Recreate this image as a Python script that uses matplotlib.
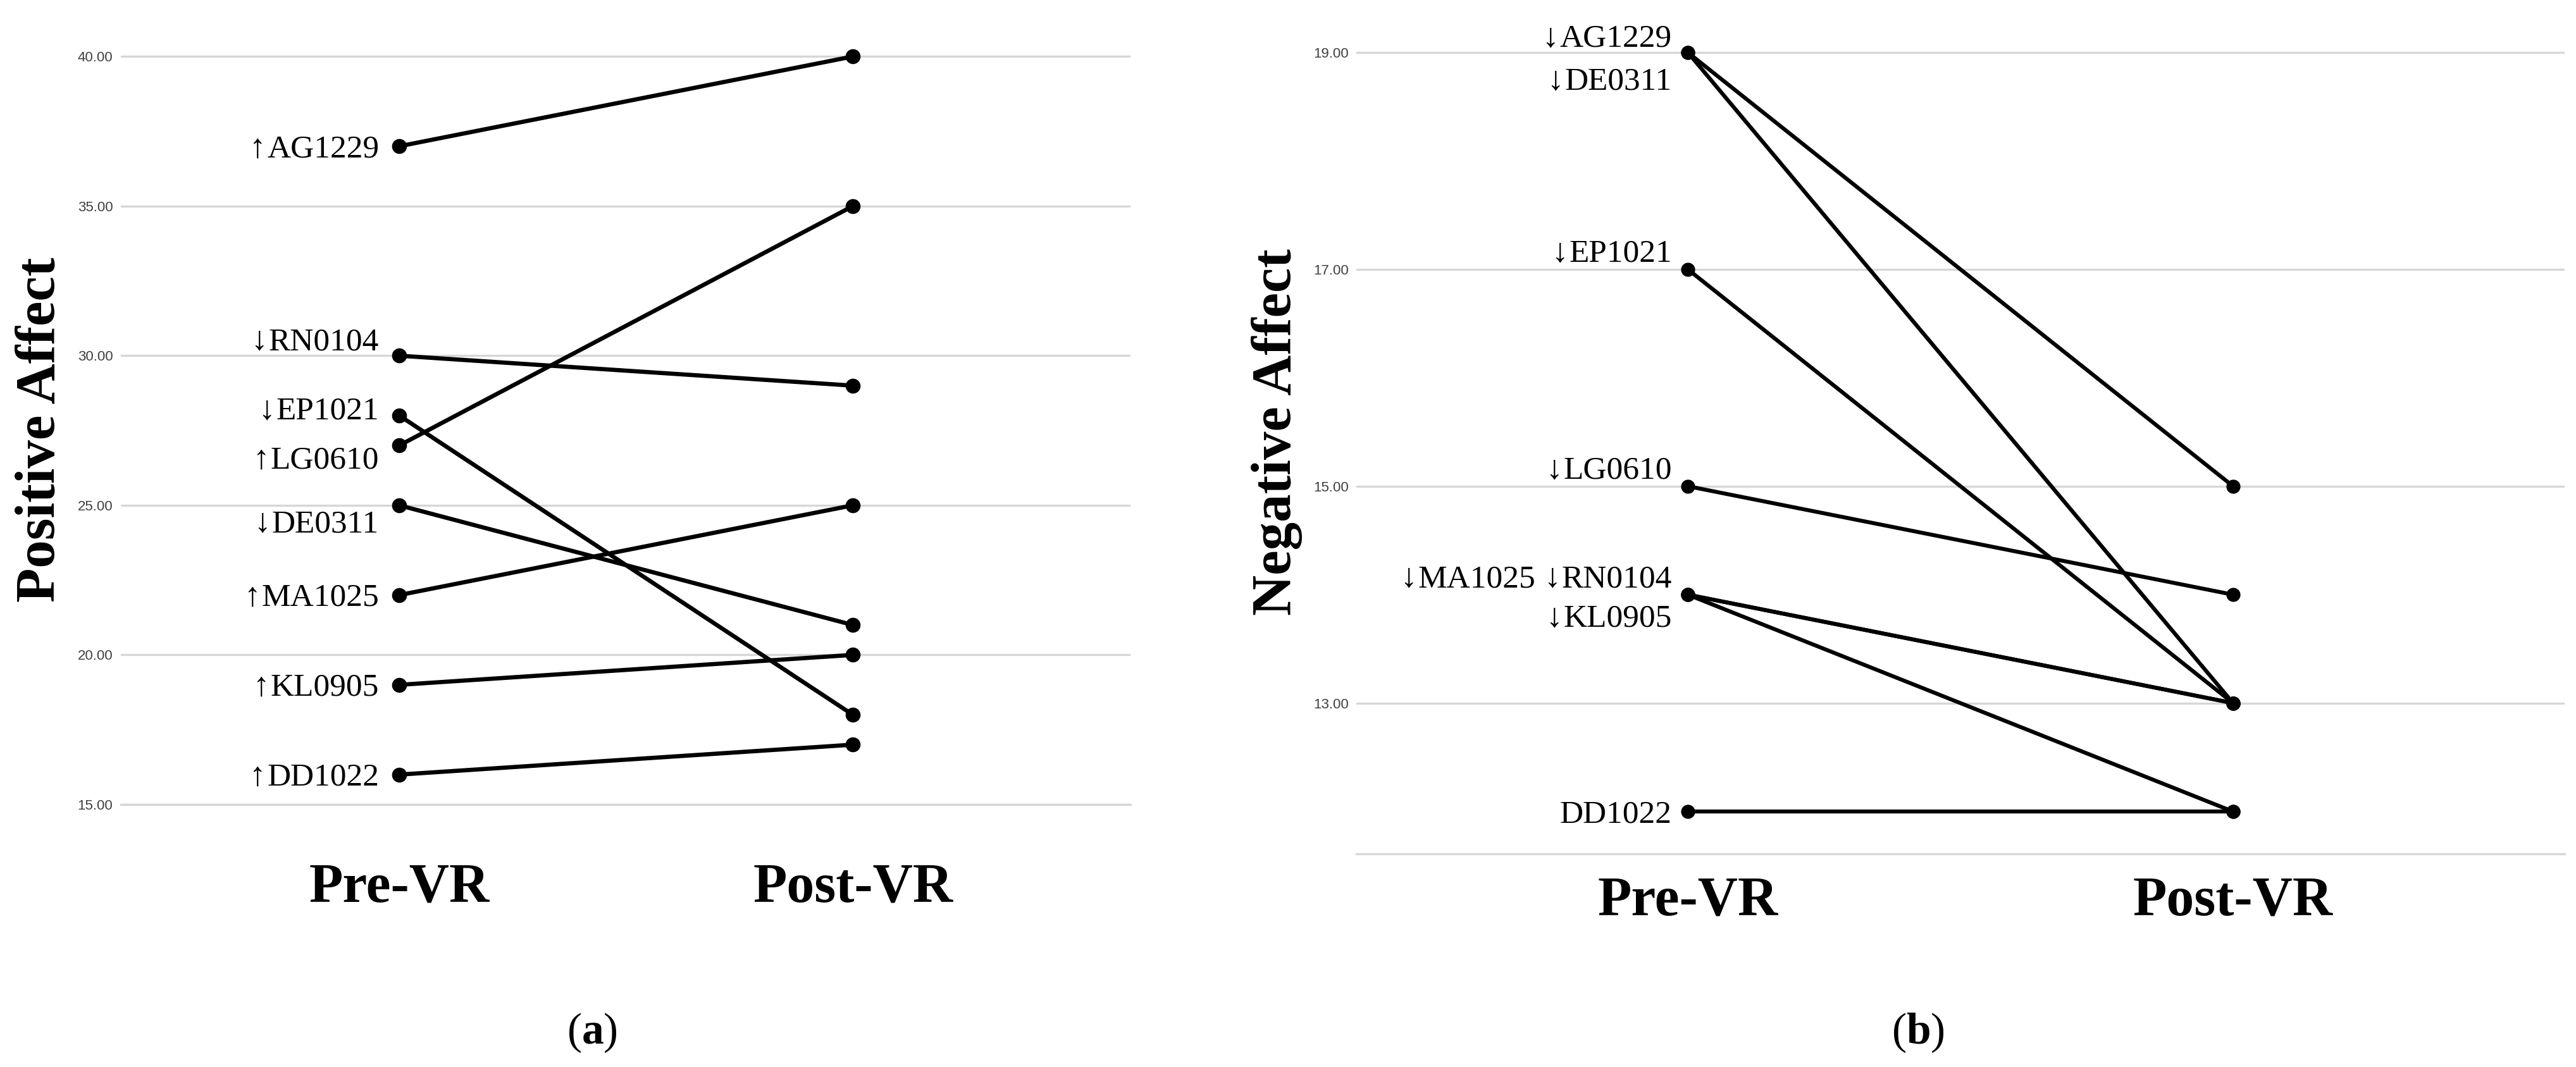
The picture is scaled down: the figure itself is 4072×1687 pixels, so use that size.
import matplotlib
matplotlib.use('Agg')
from matplotlib import pyplot as plt
from matplotlib.ticker import FormatStrFormatter

# values
names = ['AG1229', 'RN0104', 'EP1021', 'LG0610', 'DE0311', 'MA1025', 'KL0905', 'DD1022']
pos_pre = [37, 30, 28, 27, 25, 22, 19, 16]
pos_post = [40, 29, 18, 35, 21, 25, 20, 17]
neg_pre = [19, 14, 17, 15, 19, 14, 14, 12]
neg_post = [15, 13, 13, 14, 13, 13, 12, 12]

time_labels = ['Pre-VR', 'Post-VR']
pos_ticks = [15, 20, 25, 30, 35, 40]
neg_ticks = [13, 15, 17, 19]

plt.rcParams['mathtext.fontset'] = 'custom'
plt.rcParams['mathtext.rm'] = 'Liberation Serif'
plt.rcParams['mathtext.bf'] = 'Liberation Serif:bold'

serif = ['Liberation Serif', 'DejaVu Serif']
tick_font = ['Liberation Sans Narrow', 'Liberation Sans', 'DejaVu Sans']
grid_col = '#d6d6d6'

W, H = 4073, 1687
fig = plt.figure(figsize=(W / 100, H / 100), dpi=100)


def arrow(pre, post):
    if post > pre:
        return '\u2191'
    if post < pre:
        return '\u2193'
    return ''


def setup(ax, ticks, pad):
    for s in ['left', 'right', 'top']:
        ax.spines[s].set_visible(False)
    ax.spines['bottom'].set_color(grid_col)
    ax.spines['bottom'].set_linewidth(2.4)
    ax.set_yticks(ticks)
    ax.yaxis.set_major_formatter(FormatStrFormatter('%.2f'))
    ax.grid(axis='y', color=grid_col, linewidth=2.4)
    ax.set_axisbelow(True)
    ax.tick_params(length=0)
    ax.tick_params(axis='y', pad=9, labelsize=16, labelcolor='#404040')
    for t in ax.get_yticklabels():
        t.set_family(tick_font)
    ax.set_xticks([0, 1])
    ax.set_xticklabels(time_labels, fontsize=63, fontweight='bold', family=serif)
    ax.tick_params(axis='x', pad=pad)


def label(ax, y, parts, dx, dy):
    # parts = [(arrow, name), ...] left to right; built from the right end,
    # each piece hooked onto the left edge of the one after it
    anchor = None
    for arr, name in reversed(parts):
        if anchor is None:
            t = ax.annotate(name, xy=(0, y), xytext=(dx, dy - 12.3), textcoords='offset points',
                            ha='right', va='baseline', fontsize=37, family=serif)
        else:
            t = ax.annotate(name, xy=(0, 0), xycoords=anchor, xytext=(-10, 0),
                            textcoords='offset points', ha='right', va='bottom',
                            fontsize=37, family=serif)
        anchor = t
        if arr:
            anchor = ax.annotate(arr, xy=(0, 0), xycoords=t, xytext=(-1, 0),
                                 textcoords='offset points', ha='right', va='bottom',
                                 fontsize=38, fontweight='bold', family=serif)


# (a) positive affect
ax_a = fig.add_axes([191 / W, 415 / H, 1596 / W, 1230 / H])
ax_a.set_xlim(-0.6137, 1.612)
ax_a.set_ylim(15, 41)
setup(ax_a, pos_ticks, 66)
for pre, post in zip(pos_pre, pos_post):
    ax_a.plot([0, 1], [pre, post], '-o', color='black', lw=4.8, ms=16, zorder=3)

# label offsets (points) so the names don't collide
a_dy = {'AG1229': 0, 'RN0104': 19, 'EP1021': 8, 'LG0610': -14,
        'DE0311': -18, 'MA1025': 0, 'KL0905': 0, 'DD1022': 0}
for n, pre, post in zip(names, pos_pre, pos_post):
    label(ax_a, pre, [(arrow(pre, post), n)], -23, a_dy[n])

# (b) negative affect
ax_b = fig.add_axes([2144 / W, 337 / H, 1910 / W, 1318.5 / H])
ax_b.set_xlim(-0.608, 1.608)
ax_b.set_ylim(11.61, 19.3)
setup(ax_b, neg_ticks, 25)
for pre, post in zip(neg_pre, neg_post):
    ax_b.plot([0, 1], [pre, post], '-o', color='black', lw=4.5, ms=15, zorder=3)

lookup = {n: (p, q) for n, p, q in zip(names, neg_pre, neg_post)}
b_groups = [(['AG1229'], 19), (['DE0311'], -30), (['EP1021'], 21), (['LG0610'], 21),
            (['MA1025', 'RN0104'], 21), (['KL0905'], -24), (['DD1022'], 0)]
for grp, dy in b_groups:
    parts = [(arrow(*lookup[n]), n) for n in grp]
    label(ax_b, lookup[grp[0]][0], parts, -18, dy)

fig.text(0.0156, 0.597, 'Positive Affect', rotation=90, ha='center', va='center',
         fontsize=64, fontweight='bold', family=serif)
fig.text(0.4957, 0.595, 'Negative Affect', rotation=90, ha='center', va='center',
         fontsize=64, fontweight='bold', family=serif)
fig.text(0.2298, 0.032, r'($\mathbf{a}$)', ha='center', va='center', fontsize=50, family=serif)
fig.text(0.7444, 0.032, r'($\mathbf{b}$)', ha='center', va='center', fontsize=50, family=serif)

fig.savefig('out.png', dpi=100, facecolor='white')
